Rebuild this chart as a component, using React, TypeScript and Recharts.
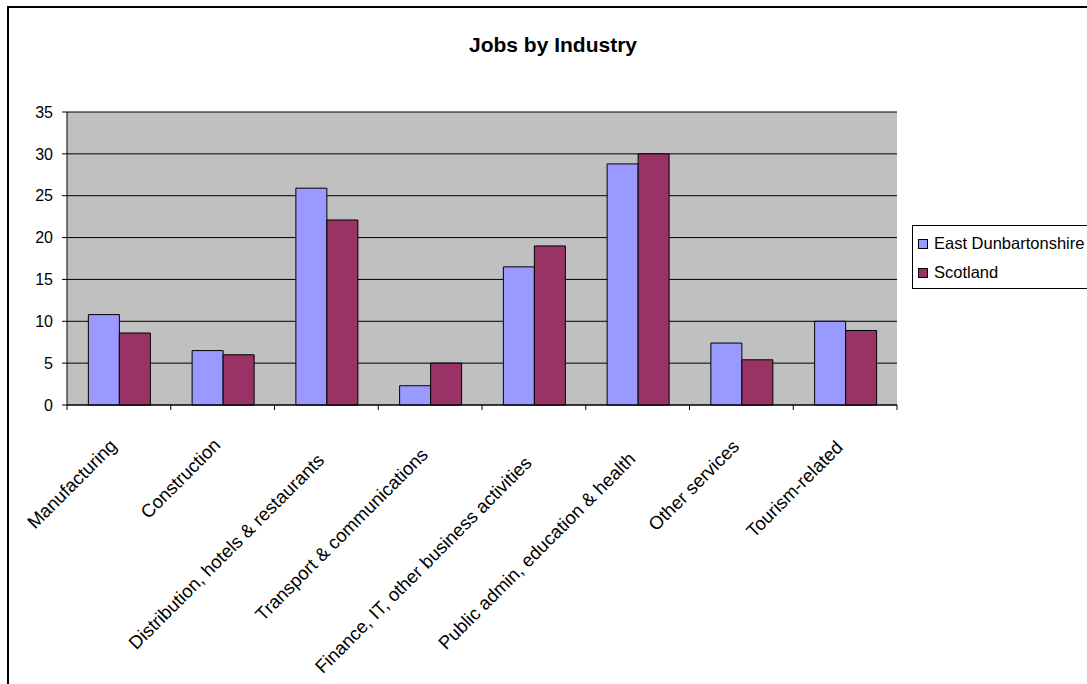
import { BarChart, Bar, XAxis, YAxis, CartesianGrid, Legend } from "recharts";

// Jobs by Industry - East Dunbartonshire vs Scotland (% of jobs)
const industries = [
  "Manufacturing",
  "Construction",
  "Distribution, hotels & restaurants",
  "Transport & communications",
  "Finance, IT, other business activities",
  "Public admin, education & health",
  "Other services",
  "Tourism-related",
];
const eastDunbartonshire = [10.8, 6.5, 25.9, 2.3, 16.5, 28.8, 7.4, 10.0];
const scotland = [8.6, 6.0, 22.1, 5.0, 19.0, 30.0, 5.4, 8.9];
const yTicks = [0, 5, 10, 15, 20, 25, 30, 35];

const FONT = "'Liberation Sans', Arial, sans-serif";
const ED_COLOR = "#9999FF";
const SCOT_COLOR = "#993366";

const data = industries.map((name, i) => ({
  name,
  ed: eastDunbartonshire[i],
  scot: scotland[i],
}));

// category label rotated 45deg, with tick marks at the category boundaries
// (longer labels sit a little lower, like the original Excel layout)
function CategoryTick(props: any) {
  const { x, y, payload, index, visibleTicksCount } = props;
  const half = payload?.offset ?? 0;
  const last = index === visibleTicksCount - 1;
  const len = String(payload.value).length;
  const dy = 33 + 0.69 * len;
  return (
    <g>
      <line x1={x - half} y1={y} x2={x - half} y2={y + 5} stroke="#000" />
      {last && <line x1={x + half} y1={y} x2={x + half} y2={y + 5} stroke="#000" />}
      <text
        transform={`translate(${x - 1},${y + dy}) rotate(-45)`}
        textAnchor="end"
        fontSize={18.5}
        fontFamily={FONT}
        fill="#000"
      >
        {payload.value}
      </text>
    </g>
  );
}

function LegendBox(props: any) {
  const items = props.payload || [];
  return (
    <div
      style={{
        border: "1px solid #000",
        background: "#fff",
        width: 200,
        height: 64,
        fontFamily: FONT,
        fontSize: 16.5,
        color: "#000",
        boxSizing: "border-box",
        paddingTop: 3,
      }}
    >
      {items.map((item: any) => (
        <div key={item.value} style={{ display: "flex", alignItems: "center", height: 29, paddingLeft: 5 }}>
          <span
            style={{
              display: "inline-block",
              width: 8,
              height: 8,
              border: "1px solid #000",
              background: item.color,
              marginRight: 6,
            }}
          />
          <span style={{ whiteSpace: "nowrap" }}>{item.value}</span>
        </div>
      ))}
    </div>
  );
}

export default function App() {
  return (
    <div
      style={{
        position: "fixed",
        left: 0,
        top: 0,
        width: 1087,
        height: 684,
        overflow: "hidden",
        background: "#fff",
      }}
    >
      {/* chart frame */}
      <div
        style={{
          position: "absolute",
          left: 7,
          top: 6,
          width: 1200,
          height: 800,
          border: "2px solid #000",
        }}
      />
      <div
        style={{
          position: "absolute",
          left: 0,
          top: 33,
          width: 1106,
          textAlign: "center",
          fontFamily: FONT,
          fontWeight: "bold",
          fontSize: 21,
          color: "#000",
        }}
      >
        Jobs by Industry
      </div>
      <div style={{ position: "absolute", left: 0, top: 0 }}>
        <BarChart
          width={1087}
          height={684}
          data={data}
          margin={{ top: 112, right: 190, left: 0, bottom: 0 }}
          barGap={0}
          barCategoryGap="20.6%"
        >
          <CartesianGrid vertical={false} fill="#C0C0C0" stroke="#000" fillOpacity={1} />
          <XAxis
            dataKey="name"
            height={279}
            interval={0}
            tickSize={0}
            tickMargin={0}
            tickLine={false}
            axisLine={{ stroke: "#000" }}
            tick={<CategoryTick />}
          />
          <YAxis
            width={67}
            domain={[0, 35]}
            ticks={yTicks}
            interval={0}
            tickSize={5}
            tickMargin={9}
            axisLine={{ stroke: "#000" }}
            tickLine={{ stroke: "#000" }}
            tick={{ fill: "#000", fontSize: 16, fontFamily: FONT }}
          />
          <YAxis
            yAxisId="frame"
            orientation="right"
            width={0}
            tick={false}
            tickLine={false}
            axisLine={{ stroke: "#808080" }}
          />
          <Legend
            layout="vertical"
            align="center"
            verticalAlign="middle"
            wrapperStyle={{ left: 912, top: 225, width: 200 }}
            content={<LegendBox />}
          />
          <Bar
            dataKey="ed"
            name="East Dunbartonshire"
            fill={ED_COLOR}
            stroke="#000"
            strokeWidth={1}
            isAnimationActive={false}
          />
          <Bar
            dataKey="scot"
            name="Scotland"
            fill={SCOT_COLOR}
            stroke="#000"
            strokeWidth={1}
            isAnimationActive={false}
          />
        </BarChart>
      </div>
    </div>
  );
}
